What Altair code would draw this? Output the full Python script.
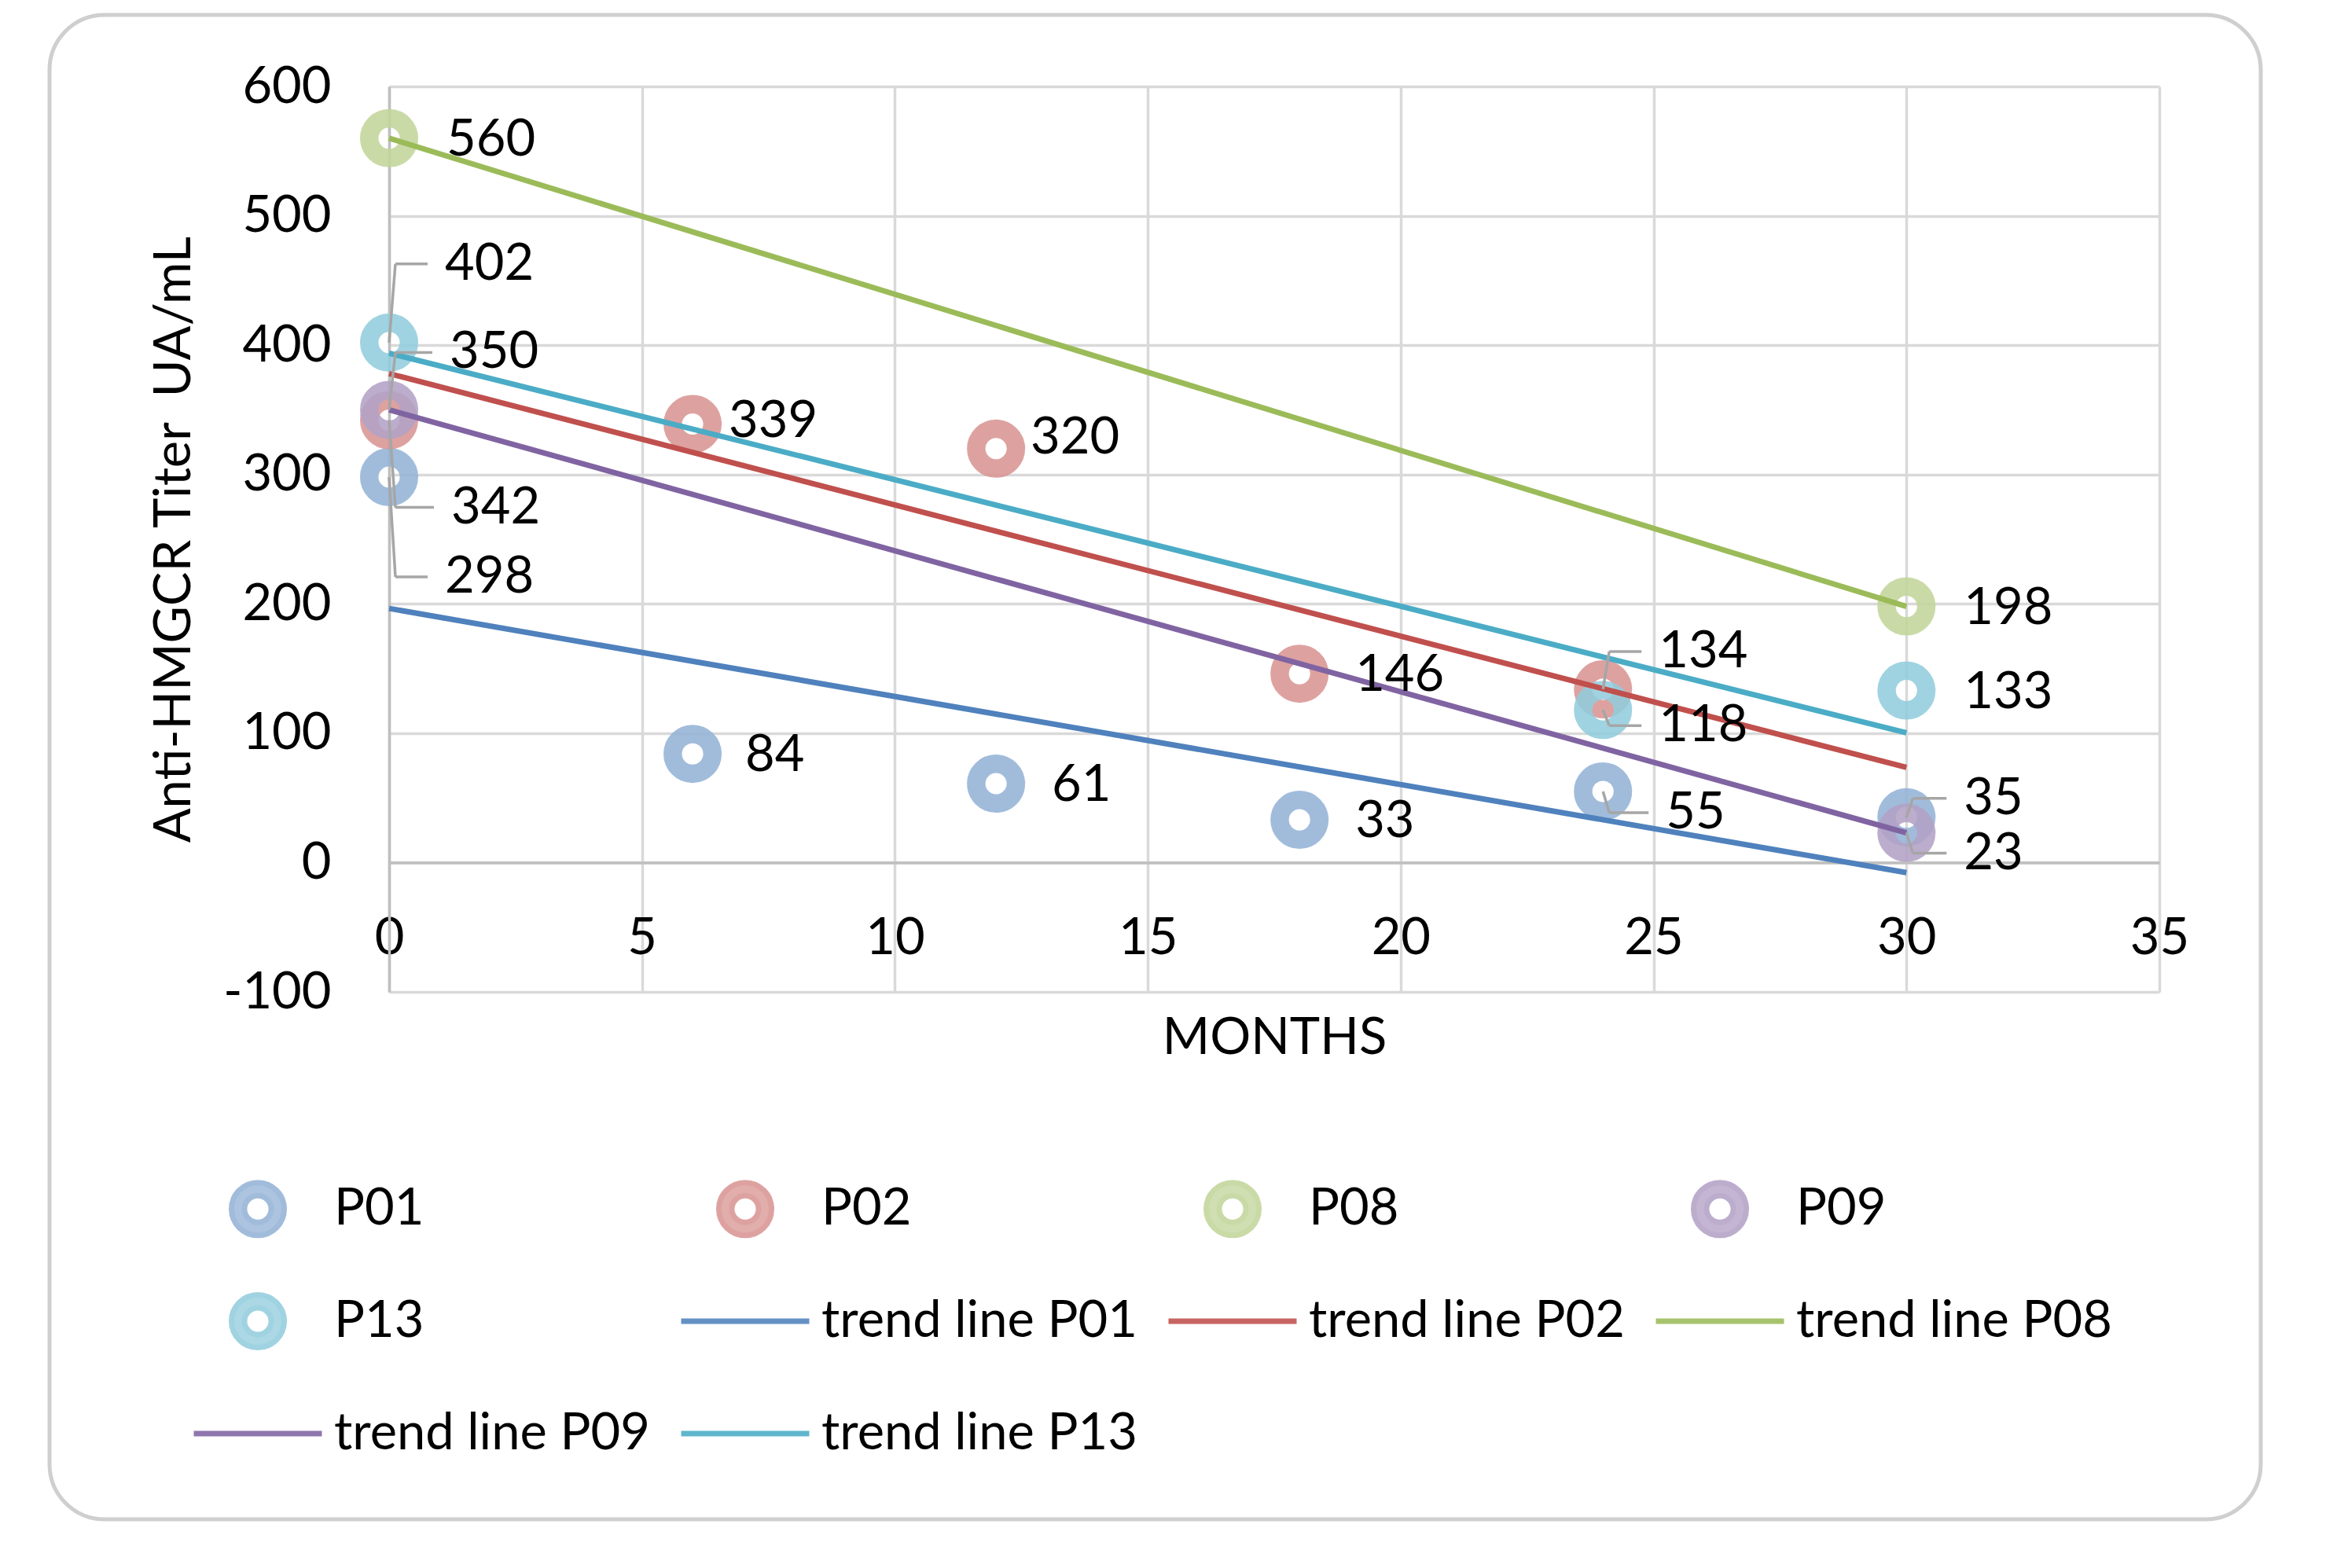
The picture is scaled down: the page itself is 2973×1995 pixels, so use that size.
import altair as alt
import pandas as pd

# ---------------- data ----------------
series_names = ["P01", "P02", "P08", "P09", "P13"]
trend_names = ["trend line P01", "trend line P02", "trend line P08", "trend line P09", "trend line P13"]

months_p01 = [0, 6, 12, 18, 24, 30]
titer_p01 = [298, 84, 61, 33, 55, 35]
months_p02 = [0, 6, 12, 18, 24]
titer_p02 = [342, 339, 320, 146, 134]
months_p08 = [0, 30]
titer_p08 = [560, 198]
months_p09 = [0, 30]
titer_p09 = [350, 23]
months_p13 = [0, 24, 30]
titer_p13 = [402, 118, 133]

x_ticks = [0, 5, 10, 15, 20, 25, 30, 35]
y_ticks = [-100, 0, 100, 200, 300, 400, 500, 600]

marker_colors = ["#95B3D7", "#D99694", "#C3D69B", "#B3A2C7", "#93CDDD"]
trend_colors = ["#4F81BD", "#C0504D", "#9BBB59", "#8064A2", "#4BACC6"]

# label placement (pixel offsets of label from its point: dx to label start, dy down, leader line?)
label_offsets = {
    ("P08", 0): (73, 2, False),
    ("P13", 0): (71, -100, True),
    ("P09", 0): (77, -73, True),
    ("P02", 0): (79, 111, True),
    ("P01", 0): (71, 127, True),
    ("P02", 6): (46, -4, False),
    ("P02", 12): (44, -14, False),
    ("P02", 18): (71, 2, False),
    ("P01", 6): (67, 2, False),
    ("P01", 12): (71, 2, False),
    ("P01", 18): (71, 2, False),
    ("P02", 24): (71, -48, True),
    ("P13", 24): (71, 20, True),
    ("P01", 24): (80, 27, True),
    ("P08", 30): (73, 2, False),
    ("P13", 30): (73, 2, False),
    ("P01", 30): (73, -24, True),
    ("P09", 30): (73, 26, True),
}

series_data = {
    "P01": (months_p01, titer_p01),
    "P02": (months_p02, titer_p02),
    "P08": (months_p08, titer_p08),
    "P09": (months_p09, titer_p09),
    "P13": (months_p13, titer_p13),
}

rows = []
for s in series_names:
    ms, vs = series_data[s]
    for m, v in zip(ms, vs):
        dx, dy, lead = label_offsets[(s, m)]
        rows.append({"series": s, "month": m, "titer": v, "ldx": dx, "ldy": dy, "leader": lead})
points = pd.DataFrame(rows)

# ---------------- layout ----------------
W, H = 2252, 1152
PXM = W / 35.0
PXV = H / 700.0
FONT = "Lato"
FS = 65

SYM = 163 * 163
ring = ("M-1,0M1,0"
        "M0.411,0A0.411,0.411,0,1,1,-0.411,0A0.411,0.411,0,1,1,0.411,0Z"
        "M0.209,0A0.209,0.209,0,1,0,-0.209,0A0.209,0.209,0,1,0,0.209,0Z")
stroke_path = "M-1,0L1,0M0,-0.411M0,0.411"

domain_all = series_names + trend_names
fill_scale = alt.Scale(domain=domain_all, range=marker_colors + trend_colors)
stroke_scale = alt.Scale(domain=domain_all, range=marker_colors + trend_colors)
shape_scale = alt.Scale(domain=domain_all, range=[ring] * 5 + [stroke_path] * 5)

legend = alt.Legend(
    title=None, orient="none", legendX=-252, legendY=1343, columns=4,
    direction="horizontal", gridAlign="all", columnPadding=25, rowPadding=10,
    labelFont=FONT, labelFontSize=FS, labelColor="black", labelLimit=1000,
    labelOffset=12, symbolSize=SYM, symbolStrokeWidth=7, symbolOffset=0,
    padding=0,
)

xscale = alt.Scale(domain=[0, 35], nice=False, zero=False)
yscale = alt.Scale(domain=[-100, 600], nice=False, zero=False)
xaxis = alt.Axis(values=x_ticks, title="MONTHS", offset=-H * 100 / 700, labelPadding=65,
                 titlePadding=63, labelExpr="'' + datum.value")
yaxis = alt.Axis(values=y_ticks, title="Anti-HMGCR Titer\u00a0 UA/mL", labelPadding=74,
                 titlePadding=40, labelExpr="'' + datum.value")


def X(field):
    return alt.X(field, type="quantitative", scale=xscale, axis=xaxis)


def Y(field):
    return alt.Y(field, type="quantitative", scale=yscale, axis=yaxis)


frame = alt.Chart(alt.InlineData(values=[{"k": 1}])).mark_rect(
    filled=False, stroke="#cfcfcf", strokeWidth=5, cornerRadius=70
).encode(
    x=alt.value(-432), x2=alt.value(2381), y=alt.value(-91), y2=alt.value(1823)
)

pts = alt.Chart(points).mark_point(
    filled=True, size=SYM, strokeWidth=7, opacity=0.88
).encode(
    x=X("month"), y=Y("titer"),
    fill=alt.Fill("series:N", scale=fill_scale, legend=legend),
    stroke=alt.Stroke("series:N", scale=stroke_scale, legend=legend),
    shape=alt.Shape("series:N", scale=shape_scale, legend=legend),
)

trends = alt.Chart(points).transform_regression(
    "month", "titer", groupby=["series"], extent=[0, 30]
).transform_calculate(
    tname='"trend line " + datum.series'
).mark_line(strokeWidth=7).encode(
    x=X("month"), y=Y("titer"),
    stroke=alt.Stroke("tname:N", scale=stroke_scale, legend=legend),
)

geo = alt.Chart(points).transform_calculate(
    lx=f"datum.month + datum.ldx / {PXM}",
    ly=f"datum.titer - datum.ldy / {PXV}",
    cx=f"datum.month + 8 / {PXM}",
    ex=f"datum.month + (datum.ldx - 22) / {PXM}",
)

lead1 = geo.transform_filter("datum.leader").mark_rule(color="#a6a6a6", strokeWidth=3.5).encode(
    x=X("month"), y=Y("titer"), x2="cx:Q", y2="ly:Q"
)
lead2 = geo.transform_filter("datum.leader").mark_rule(color="#a6a6a6", strokeWidth=3.5).encode(
    x=X("cx"), y=Y("ly"), x2="ex:Q"
)

labels = geo.mark_text(
    align="left", baseline="middle", font=FONT, fontSize=FS, color="black"
).encode(
    x=X("lx"), y=Y("ly"), text="titer:Q"
)

chart = alt.layer(frame, pts, trends, lead1, lead2, labels).properties(
    width=W, height=H,
    padding={"left": 52, "top": 8, "right": 8, "bottom": 8},
    background="white",
).configure_view(stroke=None).configure_axis(
    labelFont=FONT, titleFont=FONT, labelFontSize=FS, titleFontSize=FS,
    titleFontWeight="normal", labelColor="black", titleColor="black",
    gridColor="#d9d9d9", gridWidth=3.5, domainColor="#bfbfbf", domainWidth=3.5,
    ticks=False, tickSize=0, labelFlush=False, labelOverlap=False,
).configure_text(font=FONT)

chart.save("out.html", embed_options={"renderer": "svg", "actions": False})
